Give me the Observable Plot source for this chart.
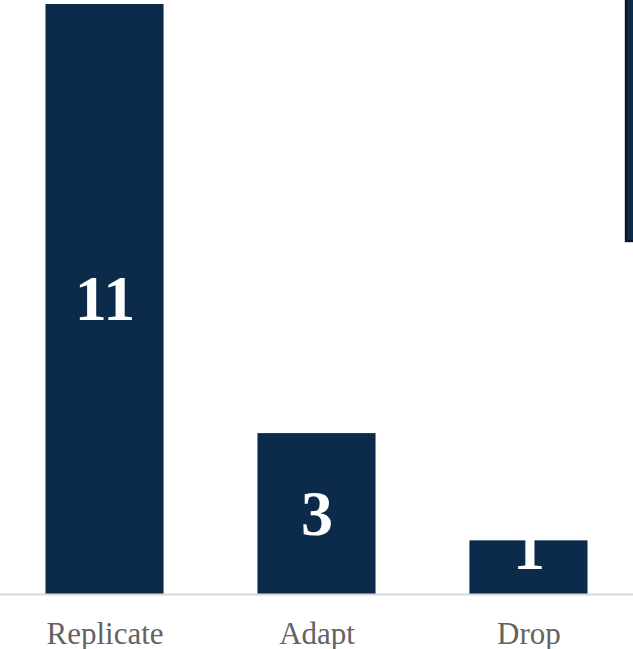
<!DOCTYPE html>
<html>
<head>
<meta charset="utf-8">
<script src="https://cdn.jsdelivr.net/npm/d3@7"></script>
<script src="https://cdn.jsdelivr.net/npm/@observablehq/plot@0.6"></script>
<style>
  html, body { margin: 0; padding: 0; background: #fff; overflow: hidden; }
  #wrap { position: relative; width: 633px; height: 649px; }
  #edge {
    position: absolute; left: 625px; top: -2px; width: 20px; height: 240px;
    background: #0c2a4a; border: 2px solid #06172b; box-shadow: 0 0 0 1px #d4d4d4;
  }
  svg text { font-family: 'Liberation Serif', 'Times New Roman', serif; }
</style>
</head>
<body>
<div id="wrap"><div id="edge"></div></div>
<script>
const categories = ["Replicate", "Adapt", "Drop"];
const values = [11, 3, 1];

const data = categories.map((c, i) => ({category: c, value: values[i]}));
const font = "'Liberation Serif', 'Times New Roman', serif";

const chart = Plot.plot({
  width: 633,
  height: 649,
  marginTop: 4,
  marginBottom: 55,
  marginLeft: 0,
  marginRight: 0,
  style: {fontFamily: font, background: "#fff"},
  x: {type: "band", domain: categories, paddingInner: 0.443, paddingOuter: 0.2146, round: false, label: null},
  y: {domain: [0, 11], axis: null},
  marks: [
    Plot.barY(data, {x: "category", y: "value", fill: "#0c2a4a"}),
    Plot.ruleY([0], {stroke: "#d9d9d9", strokeWidth: 2}),
    Plot.axisX({tickSize: 0, tickPadding: 27, fontSize: 31, fill: "#636363", label: null}),
    Plot.text(data, {
      x: "category",
      y: d => Math.max(d.value / 2, 0.85),
      text: d => String(d.value),
      fill: "#fff",
      fontSize: 64,
      fontWeight: "bold"
    })
  ]
});
document.getElementById("wrap").prepend(chart);
</script>
</body>
</html>
